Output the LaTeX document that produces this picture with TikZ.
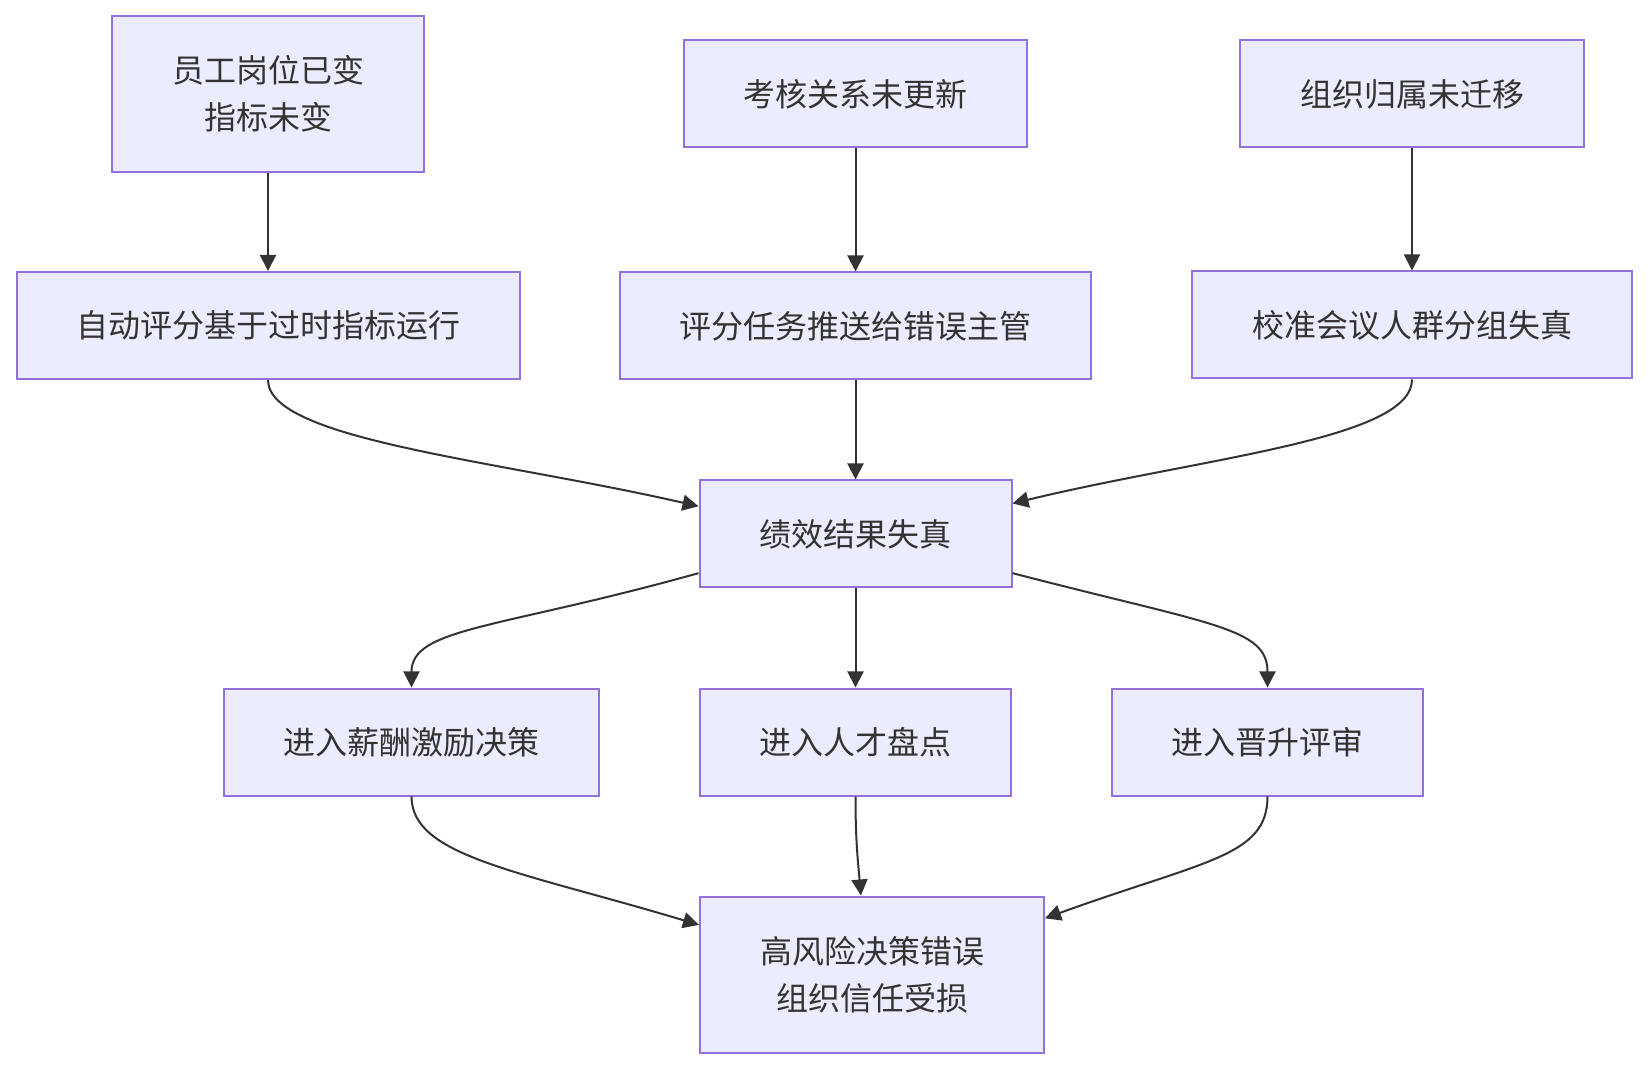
\documentclass[tikz,border=0pt]{standalone}
\usepackage{fontspec}
\setmainfont{Noto Sans CJK SC}
\usetikzlibrary{positioning,arrows.meta}
\definecolor{boxfill}{HTML}{ECECFF}
\definecolor{boxline}{HTML}{9370DB}
\definecolor{ink}{HTML}{333333}

\begin{document}
\begin{tikzpicture}[
  x=0.5pt, y=-0.5pt,
  >={Triangle[length=8pt,width=8pt]},
  font=\fontsize{16pt}{23.5pt}\selectfont,
  box/.style={draw=boxline, fill=boxfill, line width=1pt, text=ink, align=center,
              minimum height=53.5pt, inner sep=0pt},
  flow/.style={->, draw=ink, line width=1pt},
]
\useasboundingbox (0,0) rectangle (1648,1068);

% ---------- Causes (top) ----------
\node[box, minimum width=156pt, minimum height=78pt] (change) at (268,94) {员工岗位已变\\指标未变};
\node[box, minimum width=171.5pt, right=129pt of change] (rel) {考核关系未更新};
\node[box, minimum width=172pt, right=105.5pt of rel] (org) {组织归属未迁移};

% ---------- Direct effects ----------
\node[box, minimum width=251.5pt, below=49pt of change] (score) {自动评分基于过时指标运行};
\node[box, minimum width=235.5pt, below=61.5pt of rel] (push) {评分任务推送给错误主管};
\node[box, minimum width=220pt, below=61pt of org] (calib) {校准会议人群分组失真};

\draw[flow] (change) -- (score);
\draw[flow] (rel) -- (push);
\draw[flow] (org) -- (calib);

% ---------- Distorted result ----------
\node[box, minimum width=156pt, below=49.5pt of push] (dist) {绩效结果失真};

\draw[flow] (score.south) .. controls +(0,60) and +(-200,-46) .. (dist.170);
\draw[flow] (push) -- (dist);
\draw[flow] (calib.south) .. controls +(0,60) and +(190,-46) .. (dist.11);

% ---------- Decisions fed by the result ----------
\node[box, minimum width=155.5pt, below=49.5pt of dist] (talent) {进入人才盘点};
\node[box, minimum width=187.5pt, left=49.5pt of talent] (pay) {进入薪酬激励决策};
\node[box, minimum width=155.5pt, right=49.5pt of talent] (promo) {进入晋升评审};

\draw[flow] (dist.194) .. controls +(-200,56) and +(0,-60) .. (pay.north);
\draw[flow] (dist) -- (talent);
\draw[flow] (dist.-14) .. controls +(200,52) and +(0,-60) .. (promo.north);

% ---------- Outcome ----------
\node[box, minimum width=172pt, minimum height=78pt, below=49.5pt of talent, xshift=8.25pt] (risk) {高风险决策错误\\组织信任受损};

\draw[flow] (pay.south) .. controls +(0,60) and +(-180,-54) .. (risk.164);
\draw[flow] (talent.south) .. controls +(0,45) and +(-3,-35) .. (risk.98);
\draw[flow] (promo.south) .. controls +(0,60) and +(160,-58) .. (risk.18);

\end{tikzpicture}
\end{document}
